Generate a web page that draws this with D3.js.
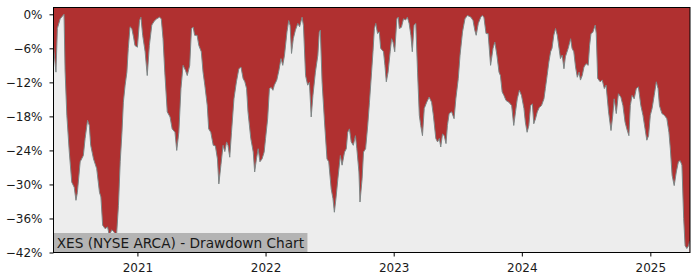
<!DOCTYPE html>
<html>
<head>
<meta charset="utf-8">
<script src="https://cdn.jsdelivr.net/npm/d3@7"></script>
<style>
body { margin: 0; background: #fff; }
svg { display: block; font-family: "DejaVu Sans", sans-serif; }
</style>
</head>
<body>
<div class="container"></div>
<script>
// drawdown in %, one array per year
var dd2020 = [
	["2020-05-07", -5.5], ["2020-05-09", -7], ["2020-05-14", -10.2], ["2020-05-18", -2.5], ["2020-05-26", -0.8],
	["2020-06-06", 0], ["2020-06-09", -10], ["2020-06-14", -17.8], ["2020-06-21", -24.3], ["2020-06-28", -29.6],
	["2020-07-05", -30.5], ["2020-07-10", -32.8], ["2020-07-14", -31.4], ["2020-07-22", -26], ["2020-07-31", -24.9],
	["2020-08-05", -21.9], ["2020-08-12", -18.7], ["2020-08-17", -19.6], ["2020-08-21", -23.1], ["2020-08-29", -25.5],
	["2020-09-07", -27.2], ["2020-09-15", -31.4], ["2020-09-19", -32.2], ["2020-09-24", -37.2], ["2020-10-01", -37.8],
	["2020-10-08", -37.5], ["2020-10-13", -39], ["2020-10-20", -38], ["2020-10-27", -38.4], ["2020-10-31", -41.5],
	["2020-11-08", -33.7], ["2020-11-13", -26], ["2020-11-18", -20.8], ["2020-11-22", -15.5], ["2020-11-27", -12.5],
	["2020-12-02", -10.2], ["2020-12-06", -6], ["2020-12-11", -2.2], ["2020-12-16", -2.5], ["2020-12-21", -4],
	["2020-12-25", -5.5]
];
var dd2021 = [
	["2021-01-01", -5.8], ["2021-01-07", -1.1], ["2021-01-11", -0.5], ["2021-01-16", -3.7], ["2021-01-23", -6.6],
	["2021-01-29", -10.8], ["2021-02-04", -5.5], ["2021-02-11", -1.9], ["2021-02-18", -1.2], ["2021-02-25", -0.8],
	["2021-03-05", -0.5], ["2021-03-10", -0.8], ["2021-03-15", -4.3], ["2021-03-20", -10.2], ["2021-03-27", -17.2],
	["2021-04-04", -18.1], ["2021-04-10", -20.2], ["2021-04-18", -20.8], ["2021-04-23", -24], ["2021-04-29", -20.8],
	["2021-05-05", -13.1], ["2021-05-11", -9], ["2021-05-18", -9.9], ["2021-05-23", -10.8], ["2021-05-30", -9],
	["2021-06-04", -2.5], ["2021-06-09", -2.3], ["2021-06-13", -3.7], ["2021-06-20", -3.7], ["2021-06-25", -5.5],
	["2021-07-02", -6.6], ["2021-07-07", -10.2], ["2021-07-12", -12.5], ["2021-07-19", -16.1], ["2021-07-23", -20.2],
	["2021-07-29", -20.8], ["2021-08-05", -23.1], ["2021-08-11", -23.2], ["2021-08-17", -25.5], ["2021-08-21", -29.9],
	["2021-08-27", -26.5], ["2021-09-02", -23.1], ["2021-09-07", -24.2], ["2021-09-12", -22.5], ["2021-09-16", -23.1],
	["2021-09-21", -25.2], ["2021-09-26", -20.8], ["2021-10-03", -14.9], ["2021-10-10", -11.9], ["2021-10-17", -9.6],
	["2021-10-23", -9.3], ["2021-10-29", -11.3], ["2021-11-03", -11.9], ["2021-11-08", -13.1], ["2021-11-12", -17.2],
	["2021-11-20", -21.9], ["2021-11-27", -24.3], ["2021-12-01", -27.8], ["2021-12-06", -25.5], ["2021-12-11", -23.7],
	["2021-12-16", -26], ["2021-12-22", -25.5], ["2021-12-28", -24.3]
];
var dd2022 = [
	["2022-01-01", -21.9], ["2022-01-07", -18.4], ["2022-01-12", -13.1], ["2022-01-17", -12.9], ["2022-01-22", -13.4],
	["2022-01-26", -12.5], ["2022-02-02", -11.6], ["2022-02-08", -9.9], ["2022-02-14", -7.8], ["2022-02-19", -9],
	["2022-02-24", -7.2], ["2022-03-03", -3.1], ["2022-03-08", -1.1], ["2022-03-12", -2], ["2022-03-16", -6.9],
	["2022-03-21", -4.3], ["2022-03-27", -2.8], ["2022-04-03", -1.6], ["2022-04-08", -2.2], ["2022-04-15", -0.5],
	["2022-04-19", -2], ["2022-04-25", -10.8], ["2022-05-01", -12.5], ["2022-05-06", -12], ["2022-05-11", -18.1],
	["2022-05-16", -14.3], ["2022-05-23", -10.2], ["2022-05-30", -7.2], ["2022-06-03", -3.1], ["2022-06-06", -2.8],
	["2022-06-11", -11.9], ["2022-06-18", -19], ["2022-06-25", -25.5], ["2022-06-30", -26], ["2022-07-07", -30.8],
	["2022-07-12", -32.5], ["2022-07-16", -34.9], ["2022-07-21", -32.2], ["2022-07-26", -29], ["2022-08-02", -24.9],
	["2022-08-07", -26.6], ["2022-08-14", -24.3], ["2022-08-19", -23.7], ["2022-08-23", -20.8], ["2022-08-28", -20.2],
	["2022-09-02", -22.5], ["2022-09-08", -23.1], ["2022-09-14", -21.4], ["2022-09-18", -23.7], ["2022-09-24", -27.8],
	["2022-09-27", -33.1], ["2022-10-03", -29], ["2022-10-07", -24.3], ["2022-10-13", -23.7], ["2022-10-19", -19.6],
	["2022-10-24", -15.5], ["2022-10-30", -10.2], ["2022-11-03", -6.6], ["2022-11-07", -2.5], ["2022-11-11", -1.6],
	["2022-11-16", -3.4], ["2022-11-21", -3.1], ["2022-11-25", -6], ["2022-12-03", -6.6], ["2022-12-07", -9],
	["2022-12-11", -11.9], ["2022-12-16", -10.2], ["2022-12-22", -6.6], ["2022-12-26", -4.3], ["2022-12-30", -4.9]
];
var dd2023 = [
	["2023-01-04", -6.6], ["2023-01-10", -0.8], ["2023-01-14", -0.5], ["2023-01-17", -2.5], ["2023-01-23", -2.3],
	["2023-01-29", -0.8], ["2023-02-04", -1], ["2023-02-09", -0.5], ["2023-02-14", -1.6], ["2023-02-19", -3.7],
	["2023-02-23", -6.6], ["2023-02-28", -1.9], ["2023-03-05", -1.6], ["2023-03-10", -10.2], ["2023-03-15", -17.8],
	["2023-03-19", -19.6], ["2023-03-24", -21.4], ["2023-03-29", -16.6], ["2023-04-05", -15.5], ["2023-04-12", -14.6],
	["2023-04-19", -15.5], ["2023-04-24", -17.8], ["2023-05-01", -21.9], ["2023-05-06", -22.5], ["2023-05-11", -21.9],
	["2023-05-15", -23.4], ["2023-05-20", -21.1], ["2023-05-25", -21.4], ["2023-05-30", -22.8], ["2023-06-03", -19.6],
	["2023-06-08", -17.5], ["2023-06-15", -17.2], ["2023-06-22", -18.4], ["2023-06-27", -14.9], ["2023-07-04", -11.3],
	["2023-07-09", -7.2], ["2023-07-16", -3.1], ["2023-07-23", -0.8], ["2023-07-30", -0.2], ["2023-08-09", -0.5],
	["2023-08-15", -1.1], ["2023-08-20", -2.8], ["2023-08-24", -3.7], ["2023-08-30", -1.6], ["2023-09-06", -0.5],
	["2023-09-10", -0.2], ["2023-09-15", -0.5], ["2023-09-21", -3.4], ["2023-09-27", -3.4], ["2023-10-04", -9],
	["2023-10-11", -6], ["2023-10-16", -4.9], ["2023-10-22", -7.2], ["2023-10-28", -10.2], ["2023-11-01", -10.8],
	["2023-11-06", -13.7], ["2023-11-11", -14.3], ["2023-11-17", -15.2], ["2023-11-25", -15.5], ["2023-12-03", -16.1],
	["2023-12-09", -19.6], ["2023-12-14", -17.2], ["2023-12-19", -14.9], ["2023-12-25", -13.4], ["2023-12-31", -14.3]
];
var dd2024 = [
	["2024-01-07", -16.6], ["2024-01-11", -19], ["2024-01-16", -20.8], ["2024-01-21", -19.6], ["2024-01-26", -16.1],
	["2024-01-31", -15.8], ["2024-02-04", -19.3], ["2024-02-09", -18.4], ["2024-02-14", -17.2], ["2024-02-20", -16.4],
	["2024-02-26", -16.1], ["2024-03-04", -14.9], ["2024-03-08", -13.1], ["2024-03-13", -10.8], ["2024-03-18", -8.4],
	["2024-03-23", -6.6], ["2024-03-27", -6], ["2024-04-01", -3.7], ["2024-04-06", -2.5], ["2024-04-11", -3.7],
	["2024-04-16", -6], ["2024-04-20", -7.8], ["2024-04-25", -7.2], ["2024-04-30", -9.6], ["2024-05-04", -7.5],
	["2024-05-12", -6], ["2024-05-19", -4.3], ["2024-05-23", -6], ["2024-05-28", -6.6], ["2024-06-02", -9.3],
	["2024-06-07", -11.1], ["2024-06-12", -10.2], ["2024-06-16", -11.6], ["2024-06-21", -10.8], ["2024-06-26", -9.3],
	["2024-07-02", -8.7], ["2024-07-08", -9], ["2024-07-12", -5.5], ["2024-07-16", -3.4], ["2024-07-21", -3.2],
	["2024-07-28", -1.9], ["2024-07-31", -3.4], ["2024-08-04", -11.3], ["2024-08-11", -11.9], ["2024-08-17", -11.6],
	["2024-08-23", -13.1], ["2024-08-28", -12.5], ["2024-09-04", -17.2], ["2024-09-11", -20.5], ["2024-09-16", -17.8],
	["2024-09-20", -14.9], ["2024-09-26", -17.5], ["2024-10-02", -14], ["2024-10-09", -14.6], ["2024-10-15", -16.1],
	["2024-10-21", -19], ["2024-10-26", -20.2], ["2024-11-01", -21.4], ["2024-11-05", -16.1], ["2024-11-10", -14.3],
	["2024-11-16", -14.9], ["2024-11-22", -13.1], ["2024-11-28", -12.8], ["2024-12-05", -16.1], ["2024-12-11", -17.8],
	["2024-12-17", -20.2], ["2024-12-22", -22.2], ["2024-12-27", -21.4]
];
var dd2025 = [
	["2025-01-01", -17.8], ["2025-01-06", -16.6], ["2025-01-12", -14.3], ["2025-01-18", -11.9], ["2025-01-23", -13.1],
	["2025-01-27", -16.1], ["2025-02-03", -17.5], ["2025-02-10", -17.8], ["2025-02-17", -18.4], ["2025-02-23", -20.8],
	["2025-02-27", -23.7], ["2025-03-04", -28.4], ["2025-03-10", -30.2], ["2025-03-16", -27.8], ["2025-03-22", -26],
	["2025-03-27", -25.8], ["2025-04-01", -26.6], ["2025-04-06", -36], ["2025-04-10", -40.8], ["2025-04-15", -41.3],
	["2025-04-20", -40.8], ["2025-04-23", -40]
];

var yTicks = [0, -6, -12, -18, -24, -30, -36, -42],
	xTicks = ["2021-01-01", "2022-01-01", "2023-01-01", "2024-01-01", "2025-01-01"],
	dateRange = ["2020-05-07", "2025-04-24"],
	yRange = [-42, 1.2],
	TITLE = "XES (NYSE ARCA) - Drawdown Chart";

var WIDTH = 700,
	HEIGHT = 280,
	MARGIN = {top: 7.5, right: 10, bottom: 27.5, left: 53.5},
	W = WIDTH - MARGIN.left - MARGIN.right,
	H = HEIGHT - MARGIN.top - MARGIN.bottom,
	RED = "#b03030",
	GREY = "#ededed";

var parse = d3.timeParse("%Y-%m-%d");

function translate(x, y) {
	return 'translate(' + x + ',' + y + ')';
}

var data = [].concat(dd2020, dd2021, dd2022, dd2023, dd2024, dd2025).map(function(d) {
	return {date: parse(d[0]), value: d[1]};
});

var svg = d3.select('.container').append('svg')
	.attr('width', WIDTH)
	.attr('height', HEIGHT);

var g = svg.append('g')
	.attr('transform', translate(MARGIN.left, MARGIN.top));

var xScale = d3.scaleTime()
	.domain(dateRange.map(parse))
	.range([0, W]);

var yScale = d3.scaleLinear()
	.domain(yRange)
	.range([H, 0]);

// red above the curve, light grey below it
g.append('rect')
	.attr('width', W)
	.attr('height', H)
	.attr('fill', RED);

g.append('path')
	.datum(data)
	.attr('fill', GREY)
	.attr('d', d3.area()
		.x(function(d) { return xScale(d.date); })
		.y0(H)
		.y1(function(d) { return yScale(d.value); }));

g.append('path')
	.datum(data)
	.attr('fill', 'none')
	.attr('stroke', '#7d8686')
	.attr('stroke-width', 1)
	.attr('d', d3.line()
		.x(function(d) { return xScale(d.date); })
		.y(function(d) { return yScale(d.value); }));

// title box in the lower left corner
var label = g.append('text')
	.attr('x', 3.2)
	.attr('y', H - 4.6)
	.attr('font-size', 13.7)
	.attr('fill', '#1a1a1a')
	.text(TITLE);

var tw = label.node().getComputedTextLength();
g.insert('rect', 'text')
	.attr('x', 0)
	.attr('y', H - 19.5)
	.attr('width', tw + 6.5)
	.attr('height', 19.5)
	.attr('fill', '#b4b4b4');

g.append('rect')
	.attr('width', W)
	.attr('height', H)
	.attr('fill', 'none')
	.attr('stroke', '#000')
	.attr('stroke-width', 1);

var yAxis = d3.axisLeft(yScale)
	.tickValues(yTicks)
	.tickSize(4)
	.tickSizeOuter(0)
	.tickPadding(7)
	.tickFormat(function(d) { return d3.format('d')(d) + '%'; });

var xAxis = d3.axisBottom(xScale)
	.tickValues(xTicks.map(parse))
	.tickSize(4)
	.tickSizeOuter(0)
	.tickPadding(6.5)
	.tickFormat(d3.timeFormat('%Y'));

var yAxisGroup = g.append('g').call(yAxis);
var xAxisGroup = g.append('g').attr('transform', translate(0, H)).call(xAxis);

[yAxisGroup, xAxisGroup].forEach(function(ax) {
	ax.select('.domain').remove();
	ax.attr('font-family', '"DejaVu Sans", sans-serif').attr('font-size', 12);
	ax.selectAll('text').attr('fill', '#1a1a1a');
});
</script>
</body>
</html>
